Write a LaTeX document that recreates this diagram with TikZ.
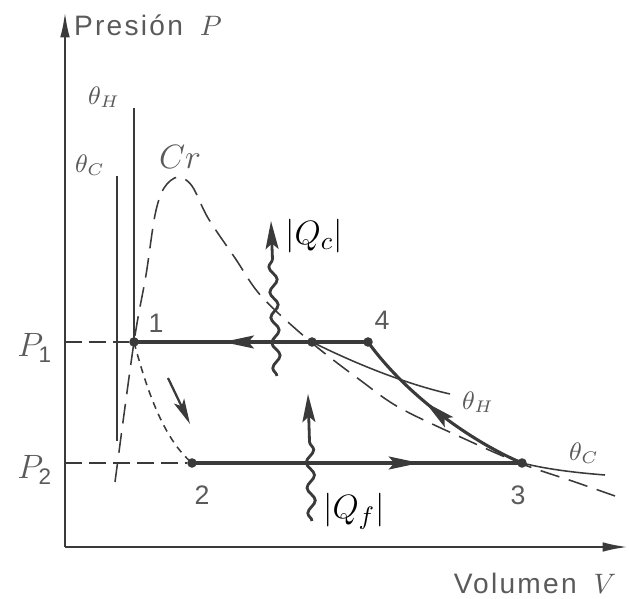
\documentclass[tikz,border=0pt]{standalone}
\usepackage{amsmath}
\usepackage{fontspec}
\newfontfamily\axisfont[LetterSpace=8]{Liberation Sans}
\newfontfamily\numfont{Liberation Sans}
\usetikzlibrary{arrows.meta,decorations.pathmorphing,decorations.markings}

\definecolor{ink}{HTML}{3A3A3A}
\definecolor{inktext}{HTML}{5A5A5A}

\tikzset{
axis/.style={draw=ink, line width=0.8pt, -{Latex[length=9pt,width=3.4pt]}},
state/.style={circle, fill=ink, inner sep=0pt, minimum size=3.4pt},
process/.style={draw=ink, line width=1.1pt},
iso/.style={draw=ink, line width=0.55pt},
dome/.style={draw=ink, line width=0.55pt, dash pattern=on 7pt off 3.5pt},
guide/.style={draw=ink, line width=0.5pt, dash pattern=on 6pt off 2.5pt},
throttle/.style={draw=ink, line width=0.55pt, dash pattern=on 2.5pt off 2pt},
midarrow/.style={postaction=decorate, decoration={markings,
  mark=at position #1 with {\arrow{Stealth[length=11pt,width=4.6pt,inset=2pt]}}}},
heat/.style={draw=ink, line width=1pt, decorate,
  decoration={snake, amplitude=1.4pt, segment length=9pt, post length=13pt},
  -{Stealth[length=10pt,width=4.6pt,inset=2pt]}},
axislabel/.style={font=\axisfont\fontsize{10}{12}\selectfont, text=inktext},
numlabel/.style={font=\numfont\fontsize{9.5}{11}\selectfont, text=inktext},
isolabel/.style={font=\fontsize{9}{10}\selectfont, text=inktext},
levellabel/.style={font=\fontsize{12}{14}\selectfont, text=inktext},
heatlabel/.style={font=\fontsize{13}{15}\selectfont, text=black}
}

\begin{document}
\begin{tikzpicture}[x=0.0125cm, y=-0.0125cm]

\useasboundingbox (0,0) rectangle (629,599);

%%%%%%%%%%%%%%%%%%%%%%%%%%%%%%%%%%%%%%%%%%%%%%%%%%%%%%%%%%
% AXES
%%%%%%%%%%%%%%%%%%%%%%%%%%%%%%%%%%%%%%%%%%%%%%%%%%%%%%%%%%

\coordinate (O) at (65,547);
\coordinate (Ptop) at (65,12);
\coordinate (Vend) at (628,547);

\draw[axis] (O) -- (Ptop);
\draw[axis] (O) -- (Vend);

\node[axislabel] (plab) at (148,25) {Presión\hspace{6pt}$P$};
\node[axislabel] (vlab) at (535,583) {Volumen\hspace{6pt}$V$};

%%%%%%%%%%%%%%%%%%%%%%%%%%%%%%%%%%%%%%%%%%%%%%%%%%%%%%%%%%
% STATES
%%%%%%%%%%%%%%%%%%%%%%%%%%%%%%%%%%%%%%%%%%%%%%%%%%%%%%%%%%

\node[state] (s1) at (134,342) {};
\node[state] (sv) at (312,342) {};
\node[state] (s4) at (368,342) {};
\node[state] (s2) at (192,463) {};
\node[state] (s3) at (522,463) {};

\node[numlabel] (n1) at (156,323) {1};
\node[numlabel] (n2) at (202,495) {2};
\node[numlabel] (n3) at (518,495) {3};
\node[numlabel] (n4) at (382,320) {4};

%%%%%%%%%%%%%%%%%%%%%%%%%%%%%%%%%%%%%%%%%%%%%%%%%%%%%%%%%%
% PRESSURE LEVELS
%%%%%%%%%%%%%%%%%%%%%%%%%%%%%%%%%%%%%%%%%%%%%%%%%%%%%%%%%%

\coordinate (P1ax) at (65,342);
\coordinate (P2ax) at (65,463);

\draw[guide] (P1ax) -- (s1);
\draw[guide] (P2ax) -- (s2);

\node[levellabel] (p1lab) at (35,348) {$P_{\text{\numfont 1}}$};
\node[levellabel] (p2lab) at (35,470) {$P_{\text{\numfont 2}}$};

%%%%%%%%%%%%%%%%%%%%%%%%%%%%%%%%%%%%%%%%%%%%%%%%%%%%%%%%%%
% SATURATION DOME
%%%%%%%%%%%%%%%%%%%%%%%%%%%%%%%%%%%%%%%%%%%%%%%%%%%%%%%%%%

\draw[dome] plot[smooth, tension=0.55] coordinates {
(115,482) (134,342) (146,275) (155,215) (164,188) (178,177)
(192,186) (208,218) (235,258) (262,297) (312,343) (360,380)
(400,408) (467,440) (522,464) (575,482) (615,496)};

\node[isolabel, font=\fontsize{11.5}{13}\selectfont] (cr) at (180,157) {$Cr$};

%%%%%%%%%%%%%%%%%%%%%%%%%%%%%%%%%%%%%%%%%%%%%%%%%%%%%%%%%%
% ISOTHERMS
%%%%%%%%%%%%%%%%%%%%%%%%%%%%%%%%%%%%%%%%%%%%%%%%%%%%%%%%%%

\coordinate (thHtop) at (134,108);
\coordinate (thHend) at (450,394);
\coordinate (thCtop) at (117,176);
\coordinate (thCbot) at (117,441);
\coordinate (thCend) at (605,475);

\draw[iso] (thHtop) -- (s1.center);
\draw[iso] (sv.center) .. controls (360,366) and (410,385) .. (thHend);
\draw[iso] (thCtop) -- (thCbot);
\draw[iso] (s3.center) .. controls (550,470) and (580,473) .. (thCend);

\node[isolabel] (thH1) at (104,97) {$\theta_H$};
\node[isolabel] (thC1) at (90,165) {$\theta_C$};
\node[isolabel] (thH2) at (478,402) {$\theta_H$};
\node[isolabel] (thC2) at (584,453) {$\theta_C$};

%%%%%%%%%%%%%%%%%%%%%%%%%%%%%%%%%%%%%%%%%%%%%%%%%%%%%%%%%%
% CYCLE
%%%%%%%%%%%%%%%%%%%%%%%%%%%%%%%%%%%%%%%%%%%%%%%%%%%%%%%%%%

\draw[process] (s4.center) -- (sv.center);
\draw[process, midarrow=0.5] (sv.center) -- (s1.center);
\draw[process, midarrow=0.69] (s2.center) -- (s3.center);
\draw[process, midarrow=0.58] (s3.center) .. controls (472,442) and (406,395) .. (s4.center);

\draw[throttle] (s1.center) .. controls (148,395) and (165,440) .. (s2.center);

\coordinate (thrA) at (168,378);
\coordinate (thrB) at (190,424);
\draw[draw=ink, line width=0.8pt, -{Stealth[length=9pt,width=4pt,inset=2pt]}] (thrA) -- (thrB);

%%%%%%%%%%%%%%%%%%%%%%%%%%%%%%%%%%%%%%%%%%%%%%%%%%%%%%%%%%
% HEAT
%%%%%%%%%%%%%%%%%%%%%%%%%%%%%%%%%%%%%%%%%%%%%%%%%%%%%%%%%%

\coordinate (qcA) at (277,376);
\coordinate (qcB) at (271,221);
\coordinate (qfA) at (312,521);
\coordinate (qfB) at (308,394);

\draw[heat] (qcA) -- (qcB);
\draw[heat] (qfA) -- (qfB);

\node[heatlabel] (qc) at (314,236) {$|Q_c|$};
\node[heatlabel] (qf) at (354,511) {$|Q_f|$};

\end{tikzpicture}
\end{document}
